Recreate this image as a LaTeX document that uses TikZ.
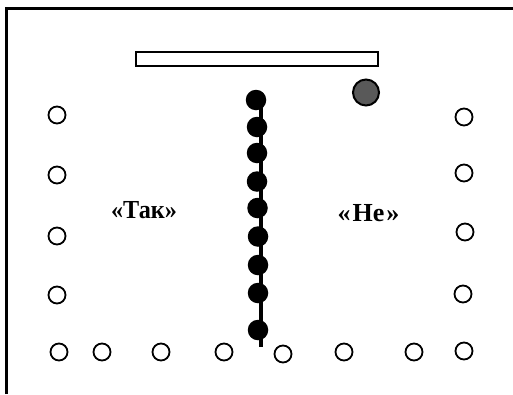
\documentclass[tikz,border=0pt]{standalone}
\usepackage{fontspec}
\setmainfont{Liberation Serif}
\begin{document}
\begin{tikzpicture}[x=1pt,y=-1pt,
  hole/.style={circle,draw=black,line width=1.8pt,fill=white,minimum size=17pt,inner sep=0pt},
  bead/.style={circle,fill=black,minimum size=20.5pt,inner sep=0pt},
  lbl/.style={font=\bfseries\fontsize{26}{28}\selectfont,inner sep=0pt}]
\useasboundingbox (0,0) rectangle (513,394);
% frame
\draw[line width=2.5pt] (6.5,394) -- (6.5,8.3) -- (513,8.3);
% bar
\node[draw=black,line width=2pt,minimum width=242pt,minimum height=14pt,inner sep=0pt] (bar) at (257,58.5) {};
% gray ball
\node[circle,draw=black,line width=2pt,fill=black!65,minimum size=26pt,inner sep=0pt] (gball) at (366,92.5) {};
% string
\coordinate (stop) at (260.5,105);
\coordinate (sbot) at (260.5,347);
\draw[line width=4pt] (stop) -- (sbot);
\foreach \i/\x/\y in {1/256/100,2/257/127,3/257/153,4/257/181.5,5/257.5/208,6/258/236.5,7/258/265,8/258/293,9/258/330}
  \node[bead] (b\i) at (\x,\y) {};
% holes left
\foreach \i/\y in {1/115,2/175,3/236,4/295}
  \node[hole] (l\i) at (57,\y) {};
% holes right
\foreach \i/\x/\y in {1/464/117,2/464/173,3/465/232,4/463/294}
  \node[hole] (r\i) at (\x,\y) {};
% bottom row
\foreach \i/\x/\y in {1/59/352,2/102/352,3/161/352,4/224/352,5/283/354,6/344/352,7/414/352,8/464/351}
  \node[hole] (d\i) at (\x,\y) {};
% labels
\node[lbl,anchor=base] (yes) at (144,218.3) {\scalebox{0.93}[1]{«Так»}};
\node[lbl,anchor=base] (no) at (368.5,221) {«\kern2ptНе\kern2pt»};
\end{tikzpicture}
\end{document}
